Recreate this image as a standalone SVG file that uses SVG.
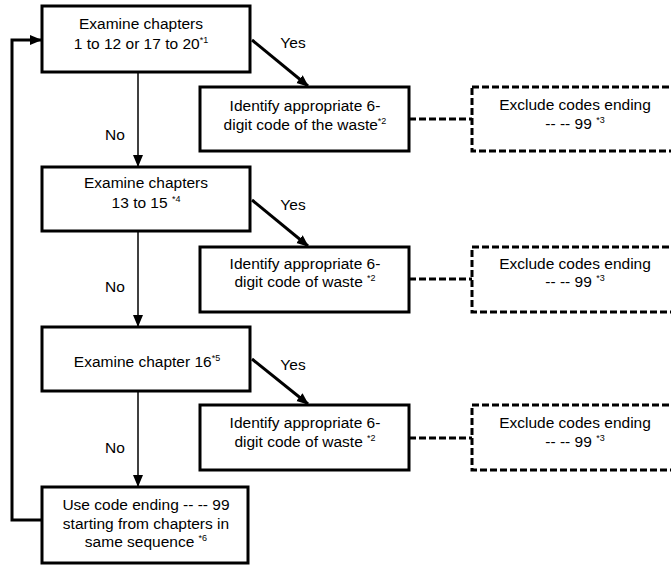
<svg xmlns="http://www.w3.org/2000/svg" width="671" height="566" viewBox="0 0 671 566">
<style>
.box{fill:#fff;stroke:#000;stroke-width:3}
.dbox{fill:#fff;stroke:#000;stroke-width:3;stroke-dasharray:7,3}
text{font-family:"Liberation Sans",Arial,sans-serif;font-size:15.5px;fill:#000;text-anchor:middle}
.sup{font-size:9px}
.thick{fill:none;stroke:#000;stroke-width:3}
.thin{fill:none;stroke:#000;stroke-width:1.5}
.dash{fill:none;stroke:#000;stroke-width:3;stroke-dasharray:7,3}
</style>
<defs>
<marker id="ah" markerUnits="userSpaceOnUse" markerWidth="12" markerHeight="12" viewBox="0 0 12 12" refX="11" refY="6" orient="auto">
<path d="M0,1 L12,6 L0,11 Z" fill="#000"/>
</marker>
</defs>
<g id="connectors">
<path class="thick" d="M252,40 L308,86" marker-end="url(#ah)"/>
<path class="thick" d="M252,200 L308,246" marker-end="url(#ah)"/>
<path class="thick" d="M252,359 L308,404" marker-end="url(#ah)"/>
<path class="thin" d="M138,72 V166" marker-end="url(#ah)"/>
<path class="thin" d="M138,231 V326" marker-end="url(#ah)"/>
<path class="thin" d="M138,392 V486" marker-end="url(#ah)"/>
<path class="thick" d="M42,520 H12 V40 H41" marker-end="url(#ah)"/>
<path class="dash" d="M409,119 H472"/>
<path class="dash" d="M409,279 H472"/>
<path class="dash" d="M409,438 H472"/>
<text x="293" y="48">Yes</text>
<text x="293" y="210">Yes</text>
<text x="293" y="370">Yes</text>
<text x="115" y="140">No</text>
<text x="115" y="292">No</text>
<text x="115" y="453">No</text>
</g>
<g id="n1">
<rect class="box" x="42" y="6" width="208" height="66"/>
<text x="141" y="29">Examine chapters</text>
<text x="141" y="49">1 to 12 or 17 to 20<tspan class="sup" dy="-6">*1</tspan></text>
</g>
<g id="n2">
<rect class="box" x="200" y="87" width="209" height="64"/>
<text x="305" y="111">Identify appropriate 6-</text>
<text x="305" y="130">digit code of the waste<tspan class="sup" dy="-6">*2</tspan></text>
</g>
<g id="n3">
<rect class="dbox" x="472" y="87" width="210" height="64"/>
<text x="575" y="110">Exclude codes ending</text>
<text x="575" y="129">-- -- 99 <tspan class="sup" dy="-6">*3</tspan></text>
</g>
<g id="n4">
<rect class="box" x="42" y="167" width="208" height="64"/>
<text x="146" y="188">Examine chapters</text>
<text x="146" y="208">13 to 15 <tspan class="sup" dy="-6">*4</tspan></text>
</g>
<g id="n5">
<rect class="box" x="200" y="247" width="209" height="65"/>
<text x="305" y="269">Identify appropriate 6-</text>
<text x="305" y="287">digit code of waste <tspan class="sup" dy="-6">*2</tspan></text>
</g>
<g id="n6">
<rect class="dbox" x="472" y="247" width="210" height="65"/>
<text x="575" y="269">Exclude codes ending</text>
<text x="575" y="287">-- -- 99 <tspan class="sup" dy="-6">*3</tspan></text>
</g>
<g id="n7">
<rect class="box" x="42" y="327" width="208" height="64"/>
<text x="147" y="367">Examine chapter 16<tspan class="sup" dy="-6">*5</tspan></text>
</g>
<g id="n8">
<rect class="box" x="200" y="405" width="209" height="65"/>
<text x="305" y="428">Identify appropriate 6-</text>
<text x="305" y="447">digit code of waste <tspan class="sup" dy="-6">*2</tspan></text>
</g>
<g id="n9">
<rect class="dbox" x="472" y="405" width="210" height="65"/>
<text x="575" y="428">Exclude codes ending</text>
<text x="575" y="447">-- -- 99 <tspan class="sup" dy="-6">*3</tspan></text>
</g>
<g id="n10">
<rect class="box" x="42" y="487" width="206" height="76"/>
<text x="146" y="510">Use code ending -- -- 99</text>
<text x="146" y="529">starting from chapters in</text>
<text x="146" y="547">same sequence <tspan class="sup" dy="-6">*6</tspan></text>
</g>
</svg>
